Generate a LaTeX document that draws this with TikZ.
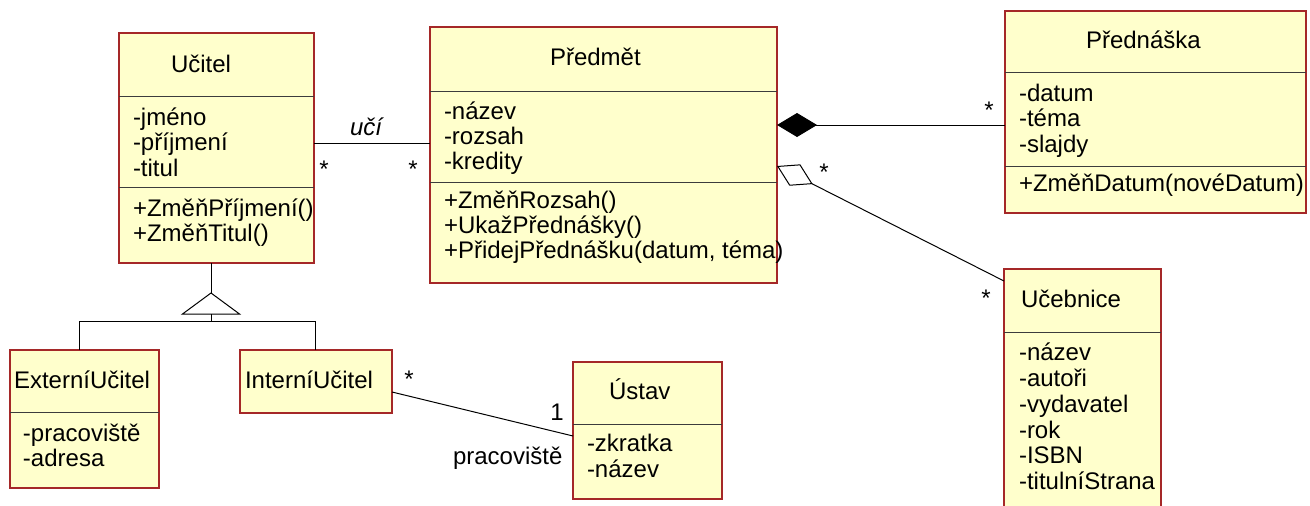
\documentclass[tikz,border=0pt]{standalone}
\usepackage{fontspec}
\setmainfont{Liberation Sans}
\usetikzlibrary{arrows.meta}
\definecolor{clsfill}{RGB}{255,255,204}
\definecolor{clsborder}{RGB}{165,40,40}
\definecolor{sepcol}{RGB}{60,60,60}
\newcommand\umlfs{\fontsize{24}{26}\selectfont}
\tikzset{
  cls/.style={draw=clsborder, fill=clsfill, line width=1.2pt, anchor=north west, inner sep=0pt, outer sep=0pt},
  txt/.style={anchor=base west, inner sep=0pt, outer sep=0pt, font=\umlfs},
  mult/.style={anchor=base, inner sep=0pt, outer sep=0pt, font=\umlfs},
  sepline/.style={draw=sepcol, line width=1pt},
  con/.style={draw=black, line width=1pt},
}
\begin{document}
\begin{tikzpicture}[x=1pt,y=-1pt]
\useasboundingbox (0,0) rectangle (1310,506);
\clip (0,0) rectangle (1310,506);

% ---------- Ucitel ----------
\node[cls, minimum width=195pt, minimum height=230pt] (ucitel) at (119,33) {};
\draw[sepline] (119,96) -- (314,96);
\draw[sepline] (119,187) -- (314,187);
\node[txt] (ucT) at (171,72) {Učitel};
\foreach \t [count=\i from 0] in {{-jméno},{-příjmení},{-titul}}
  \node[txt] (ucA\i) at (133,{125+25.5*\i}) {\t};
\foreach \t [count=\i from 0] in {{+ZměňPříjmení()},{+ZměňTitul()}}
  \node[txt] (ucM\i) at (133,{216+25.5*\i}) {\t};

% ---------- Predmet ----------
\node[cls, minimum width=347pt, minimum height=256pt] (predmet) at (430,27) {};
\draw[sepline] (430,91) -- (777,91);
\draw[sepline] (430,182) -- (777,182);
\node[txt] (prT) at (550,65.5) {Předmět};
\foreach \t [count=\i from 0] in {{-název},{-rozsah},{-kredity}}
  \node[txt] (prA\i) at (444,{119+25*\i}) {\t};
\foreach \t [count=\i from 0] in {{+ZměňRozsah()},{+UkažPřednášky()},{+PřidejPřednášku(datum, téma)}}
  \node[txt] (prM\i) at (444,{208.5+25.2*\i}) {\t};

% ---------- Prednaska ----------
\node[cls, minimum width=301pt, minimum height=202pt] (prednaska) at (1005,11) {};
\draw[sepline] (1005,72) -- (1306,72);
\draw[sepline] (1005,166) -- (1306,166);
\node[txt] (pnT) at (1086,48) {Přednáška};
\foreach \t [count=\i from 0] in {{-datum},{-téma},{-slajdy}}
  \node[txt] (pnA\i) at (1019,{101.7+25.2*\i}) {\t};
\node[txt] (pnM0) at (1019,191.5) {+ZměňDatum(novéDatum)};

% ---------- Ucebnice ----------
\node[cls, minimum width=157pt, minimum height=250pt] (ucebnice) at (1004,269) {};
\draw[sepline] (1004,332) -- (1161,332);
\node[txt] (ubT) at (1021,307) {Učebnice};
\foreach \t [count=\i from 0] in {{-název},{-autoři},{-vydavatel},{-rok},{-ISBN},{-titulníStrana}}
  \node[txt] (ubA\i) at (1019,{360.7+25.8*\i}) {\t};

% ---------- ExterniUcitel ----------
\node[cls, minimum width=149pt, minimum height=138pt] (extern) at (10,350) {};
\draw[sepline] (10,412) -- (159,412);
\node[txt] (exT) at (14,388) {ExterníUčitel};
\foreach \t [count=\i from 0] in {{-pracoviště},{-adresa}}
  \node[txt] (exA\i) at (23,{441.7+25*\i}) {\t};

% ---------- InterniUcitel ----------
\node[cls, minimum width=152pt, minimum height=63pt] (intern) at (240,350) {};
\node[txt] (inT) at (245,388) {InterníUčitel};

% ---------- Ustav ----------
\node[cls, minimum width=149pt, minimum height=137pt] (ustav) at (573,362) {};
\draw[sepline] (573,424) -- (722,424);
\node[txt] (usT) at (609,399) {Ústav};
\foreach \t [count=\i from 0] in {{-zkratka},{-název}}
  \node[txt] (usA\i) at (587,{451.7+25.5*\i}) {\t};

% ---------- Ucitel -- Predmet ----------
\draw[con] (ucitel.east |- 0,143) -- (predmet.west |- 0,143);
\node[txt, font=\umlfs\itshape] (uci) at (350,135) {učí};
\node[mult] (m1) at (324,177) {*};
\node[mult] (m2) at (413,177) {*};

% ---------- composition ----------
\draw[con, {Diamond[length=40pt,width=24pt]}-] (predmet.east |- 0,125) -- (prednaska.west |- 0,125);
\node[mult] (m3) at (989,118) {*};

% ---------- aggregation ----------
\draw[con, {Diamond[open,length=40pt,width=24pt]}-] (predmet.east |- 0,166) -- (ucebnice.west |- 0,281);
\node[mult] (m4) at (824,180) {*};
\node[mult] (m5) at (986,306) {*};

% ---------- generalization ----------
\coordinate (genapex) at (211,293);
\coordinate (genbase) at (211,314);
\coordinate (genbar) at (211,321);
\coordinate (genL) at (79,321);
\coordinate (genR) at (315,321);
\draw[con] (ucitel.south -| genapex) -- (genapex);
\draw[con, line join=miter] (genapex) -- (182.5,314) -- (239.5,314) -- cycle;
\draw[con] (genbase) -- (genbar);
\draw[con] (extern.north -| genL) -- (genL) -- (genR) -- (intern.north -| genR);

% ---------- InterniUcitel -- Ustav ----------
\draw[con] (intern.east |- 0,392) -- (ustav.west |- 0,436);
\node[mult] (m6) at (409,387) {*};
\node[mult] (m7) at (557,420) {1};
\node[txt] (prac) at (453,464) {pracoviště};
\end{tikzpicture}
\end{document}
